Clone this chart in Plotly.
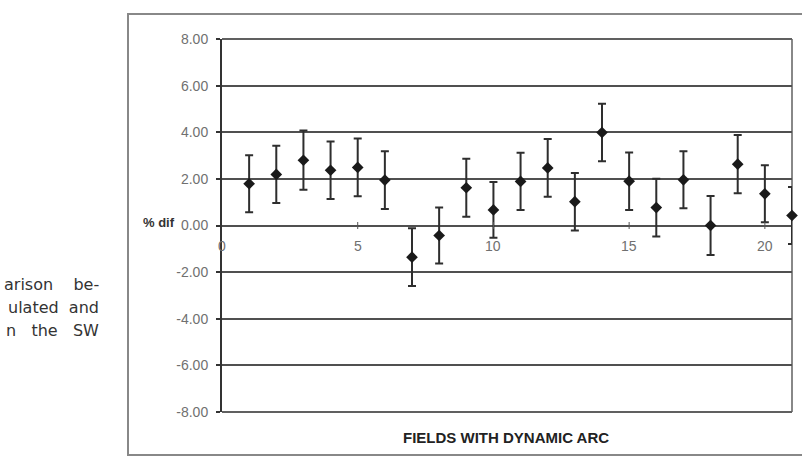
import plotly.graph_objects as go

fields = list(range(1, 22))
pct_dif = [1.79, 2.19, 2.80, 2.37, 2.49, 1.95, -1.36, -0.43, 1.62, 0.67,
           1.89, 2.47, 1.02, 3.99, 1.90, 0.77, 1.96, 0.00, 2.63, 1.36, 0.43]
err = [1.22, 1.23, 1.27, 1.23, 1.24, 1.24, 1.24, 1.20, 1.24, 1.20,
       1.23, 1.24, 1.23, 1.23, 1.23, 1.24, 1.22, 1.27, 1.25, 1.22, 1.22]
y_ticks = [8, 6, 4, 2, 0, -2, -4, -6, -8]
y_tick_labels = ["8.00", "6.00", "4.00", "2.00", "0.00", "-2.00", "-4.00", "-6.00", "-8.00"]
x_ticks = [0, 5, 10, 15, 20]
x_tick_labels = ["0", "5", "10", "15", "20"]
NB = "\u00a0"
caption_lines = ["arison" + NB * 4 + "be-", "ulated" + NB * 2 + "and", "n" + NB * 3 + "the" + NB * 3 + "SW"]

W, H = 802, 464
L, R, T, B = 222, 10, 39, 52
pw = W - L - R
ph = H - T - B

def px_x(p):
    return (p - L) / pw

def px_y(p):
    return (H - B - p) / ph

fig = go.Figure()

fig.add_trace(go.Scatter(
    x=fields, y=pct_dif, mode="markers",
    marker=dict(symbol="diamond", size=9, color="#1a1a1a"),
    error_y=dict(type="data", array=err, visible=True, color="#2e2e2e",
                 thickness=2, width=4),
    cliponaxis=False, showlegend=False, hoverinfo="skip",
))

# small tick marks on the x axis (which sits at y=0)
fig.add_trace(go.Scatter(
    x=x_ticks[1:], y=[0] * (len(x_ticks) - 1), mode="markers",
    marker=dict(symbol="line-ns", size=5, line=dict(color="#555555", width=1)),
    showlegend=False, hoverinfo="skip", cliponaxis=False,
))

fig.update_xaxes(range=[0, 21], showgrid=False, zeroline=False,
                 showticklabels=False, showline=False, ticks="")
fig.update_yaxes(range=[-8, 8], tickvals=y_ticks, ticktext=y_tick_labels,
                 showgrid=True, gridcolor="#505050", gridwidth=2,
                 zeroline=False, showline=True, linecolor="#333333", linewidth=2,
                 ticks="outside", ticklen=4, tickcolor="#333333", tickwidth=2,
                 ticklabelstandoff=5,
                 tickfont=dict(family="Liberation Sans, Arial", size=14, color="#707070"))

annotations = []
for xv, lab in zip(x_ticks, x_tick_labels):
    annotations.append(dict(x=xv, y=0, xref="x", yref="y", text=lab, showarrow=False,
                            yanchor="top", yshift=-10,
                            font=dict(family="Liberation Sans, Arial", size=14, color="#707070")))
annotations.append(dict(x=px_x(177), y=0, xref="paper", yref="y", text="<b>% dif</b>",
                        showarrow=False, xanchor="right", yanchor="middle", yshift=3,
                        font=dict(family="Liberation Sans, Arial", size=13, color="#333333")))
annotations.append(dict(x=px_x(506), y=px_y(437), xref="paper", yref="paper",
                        text="<b>FIELDS WITH DYNAMIC ARC</b>", showarrow=False,
                        xanchor="center", yanchor="middle",
                        font=dict(family="Liberation Sans, Arial", size=15, color="#222222")))
for i, line in enumerate(caption_lines):
    annotations.append(dict(x=px_x(101), y=px_y(284 + 23 * i), xref="paper", yref="paper",
                            text=line, showarrow=False, xanchor="right", yanchor="middle",
                            font=dict(family="DejaVu Sans", size=16, color="#333333")))

shapes = [
    # outer chart frame
    dict(type="rect", xref="paper", yref="paper",
         x0=px_x(128), x1=px_x(806), y0=px_y(455), y1=px_y(14),
         line=dict(color="#888888", width=2), fillcolor="rgba(0,0,0,0)", layer="below"),
    # plot area border lines
    dict(type="line", xref="paper", yref="paper", x0=1, x1=1, y0=0, y1=1,
         line=dict(color="#888888", width=2), layer="below"),
    dict(type="line", xref="paper", yref="paper", x0=0, x1=1, y0=1, y1=1,
         line=dict(color="#606060", width=2)),
    dict(type="line", xref="paper", yref="paper", x0=0, x1=1, y0=0, y1=0,
         line=dict(color="#606060", width=2)),
]

fig.update_layout(
    width=W, height=H,
    margin=dict(l=L, r=R, t=T, b=B),
    paper_bgcolor="white", plot_bgcolor="white",
    annotations=annotations, shapes=shapes,
)

fig.write_html("out.html")
